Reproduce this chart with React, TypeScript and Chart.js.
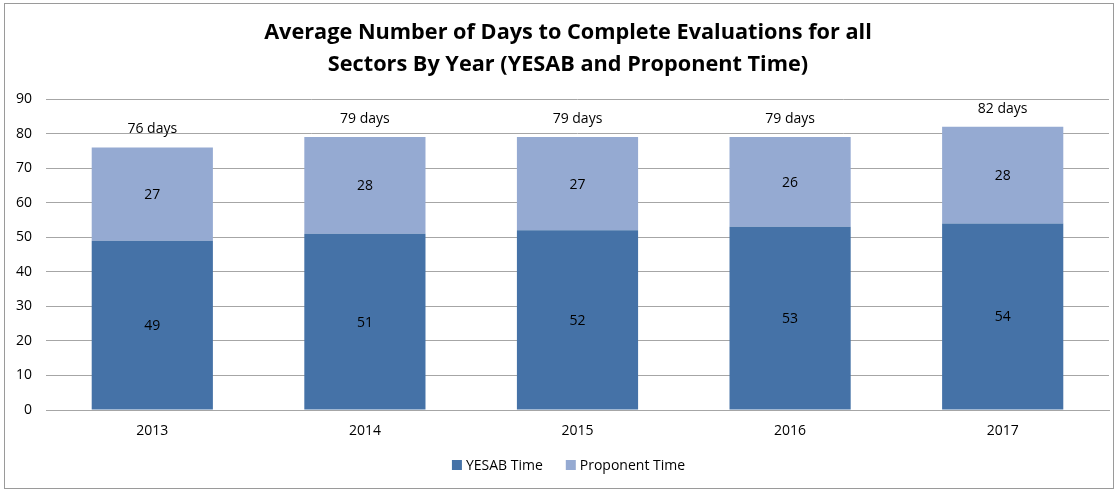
import React, { useEffect, useRef } from "react";
import { Chart, registerables } from "chart.js";

Chart.register(...registerables);

const years = ["2013", "2014", "2015", "2016", "2017"];
const yesabTime = [49, 51, 52, 53, 54];
const proponentTime = [27, 28, 27, 26, 28];
const titleLines = [
  "Average Number of Days to Complete Evaluations for all",
  "Sectors By Year (YESAB and Proponent Time)",
];
const seriesNames = ["YESAB Time", "Proponent Time"];
const seriesColors = ["#4572A7", "#95AAD2"];

const FONT = "'Open Sans', 'Liberation Sans', sans-serif";

const decorPlugin = {
  id: "decor",
  beforeDraw(chart: any) {
    const ctx = chart.ctx;
    ctx.save();
    ctx.fillStyle = "#ffffff";
    ctx.fillRect(0, 0, chart.width, chart.height);
    ctx.restore();
  },
  afterDraw(chart: any) {
    const ctx = chart.ctx;
    ctx.save();
    // outer border
    ctx.strokeStyle = "#9a9a9a";
    ctx.lineWidth = 1;
    ctx.strokeRect(4.5, 3.5, 1109, 485);

    // title
    ctx.fillStyle = "#000000";
    ctx.font = `bold 21.7px ${FONT}`;
    ctx.textAlign = "center";
    ctx.textBaseline = "middle";
    ctx.fillText(titleLines[0], 568, 33);
    ctx.fillText(titleLines[1], 568, 65);

    // segment labels
    ctx.font = `14px ${FONT}`;
    const totals = yesabTime.map((v, i) => v + proponentTime[i]);
    chart.data.datasets.forEach((ds: any, di: number) => {
      const meta = chart.getDatasetMeta(di);
      meta.data.forEach((bar: any, i: number) => {
        const top = bar.y;
        const bottom = bar.base;
        ctx.fillStyle = "#000000";
        ctx.fillText(String(ds.data[i]), bar.x, (top + bottom) / 2 + 1);
        if (di === 1) {
          ctx.fillText(`${totals[i]} days`, bar.x, top - 18);
        }
      });
    });

    // legend
    ctx.font = `14px ${FONT}`;
    ctx.textAlign = "left";
    const gap = 22;
    const box = 10;
    const widths = seriesNames.map((n) => box + 5 + ctx.measureText(n).width);
    const total = widths.reduce((a, b) => a + b, 0) + gap;
    let x = 569 - total / 2;
    const y = 465;
    seriesNames.forEach((n, i) => {
      ctx.fillStyle = seriesColors[i];
      ctx.fillRect(x, y - box / 2, box, box);
      ctx.fillStyle = "#000000";
      ctx.fillText(n, x + box + 4, y + 1);
      x += widths[i] + gap;
    });
    ctx.restore();
  },
};

export default function App() {
  const ref = useRef<HTMLCanvasElement>(null);
  useEffect(() => {
    if (!ref.current) return;
    const chart = new Chart(ref.current, {
      type: "bar",
      data: {
        labels: years,
        datasets: [
          {
            label: seriesNames[0],
            data: yesabTime,
            backgroundColor: seriesColors[0],
            categoryPercentage: 1,
            barPercentage: 0.57,
          },
          {
            label: seriesNames[1],
            data: proponentTime,
            backgroundColor: seriesColors[1],
            categoryPercentage: 1,
            barPercentage: 0.57,
          },
        ],
      },
      options: {
        animation: false,
        responsive: false,
        maintainAspectRatio: false,
        layout: { padding: { top: 99, right: 9, left: 0, bottom: 0 } },
        plugins: {
          legend: { display: false },
          title: { display: false },
          tooltip: { enabled: false },
        },
        scales: {
          x: {
            stacked: true,
            grid: { display: false, drawTicks: false },
            border: { display: true, color: "#a6a6a6" },
            ticks: {
              padding: 13,
              color: "#000000",
              font: { family: FONT, size: 14 },
            },
            afterFit(scale: any) {
              scale.height = 80;
            },
          },
          y: {
            stacked: true,
            min: 0,
            max: 90,
            ticks: {
              stepSize: 10,
              padding: 14,
              color: "#000000",
              font: { family: FONT, size: 14 },
            },
            grid: { color: "#a6a6a6", drawTicks: false },
            border: { display: false },
            afterFit(scale: any) {
              scale.width = 46;
            },
          },
        },
      },
      plugins: [decorPlugin],
    });
    return () => chart.destroy();
  }, []);
  return (
    <div style={{ position: "fixed", left: 0, top: 0, width: 1118, height: 490 }}>
      <canvas ref={ref} width={1118} height={490} style={{ display: "block" }} />
    </div>
  );
}
